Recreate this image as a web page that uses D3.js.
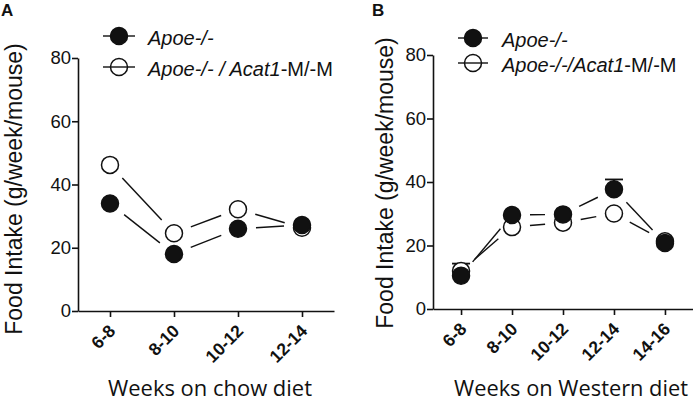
<!DOCTYPE html>
<html>
<head>
<meta charset="utf-8">
<script src="https://cdn.jsdelivr.net/npm/d3@7"></script>
<style>
  html, body { margin: 0; padding: 0; background: #fff; }
  svg { display: block; }
</style>
</head>
<body>
<svg id="chart" width="693" height="402"></svg>
<script>
// ---- Data ----
const weeksChow = ["6-8", "8-10", "10-12", "12-14"];
const chowApoe = [34, 18, 26, 27.2];
const chowAcat = [46.2, 24.6, 32.2, 26.3];

const weeksWestern = ["6-8", "8-10", "10-12", "12-14", "14-16"];
const westernApoe = [10.5, 29.6, 29.8, 37.7, 20.8];
const westernApoeErr = [0, 0, 0, 3.1, 0];
const westernAcat = [12, 25.8, 27.2, 30.1, 21.3];
const westernAcatErr = [2.3, 0, 0, 0, 0];

const yTicks = [0, 20, 40, 60, 80];
const seriesNamesA = ["Apoe-/-", "Apoe-/- / Acat1-M/-M"];
const seriesNamesB = ["Apoe-/-", "Apoe-/-/Acat1-M/-M"];

// ---- Drawing ----
const svg = d3.select("#chart");
const INK = "#111";
const R = 8.5;
const GAP = 18;

function legendLabel(sel, name) {
  const idx = name.indexOf("Acat1");
  if (idx < 0) {
    sel.append("tspan").attr("font-style", "italic").text(name);
  } else {
    sel.append("tspan").attr("font-style", "italic").text(name.slice(0, idx + 5));
    sel.append("tspan").attr("font-style", "normal").text(name.slice(idx + 5));
  }
}

function panel(cfg) {
  const g = svg.append("g");
  const x = d3.scalePoint().domain(cfg.cats).range(cfg.xRange).padding(cfg.pad);
  const y = d3.scaleLinear().domain([0, 80]).range(cfg.yRange);

  const ya = g.append("g").attr("transform", `translate(${cfg.xRange[0]},0)`)
    .call(d3.axisLeft(y).tickValues(yTicks).tickSize(6).tickSizeOuter(0).tickPadding(1));
  ya.select(".domain").attr("stroke", INK).attr("stroke-width", 1.6);
  ya.selectAll(".tick line").attr("stroke", INK).attr("stroke-width", 1.6);
  ya.selectAll(".tick text").attr("font-family", "Liberation Sans, Arial, sans-serif")
    .attr("font-size", 18.5).attr("fill", INK);

  const xa = g.append("g").attr("transform", `translate(0,${cfg.yRange[0]})`)
    .call(d3.axisBottom(x).tickSize(6).tickSizeOuter(0));
  xa.select(".domain").attr("stroke", INK).attr("stroke-width", 1.6);
  xa.selectAll(".tick line").attr("stroke", INK).attr("stroke-width", 1.6);
  xa.selectAll(".tick text")
    .attr("font-family", "Liberation Sans, Arial, sans-serif")
    .attr("font-size", 17.5).attr("font-weight", "bold").attr("fill", INK)
    .attr("text-anchor", "end").attr("dy", 0).attr("y", 0)
    .attr("transform", "translate(6,21) rotate(-45)");

  const series = [
    { vals: cfg.open, err: cfg.openErr, filled: false },
    { vals: cfg.filled, err: cfg.filledErr, filled: true }
  ];
  series.forEach(s => {
    const pts = cfg.cats.map((c, i) => [x(c), y(s.vals[i])]);
    for (let i = 0; i < pts.length - 1; i++) {
      const [x0, y0] = pts[i], [x1, y1] = pts[i + 1];
      const L = Math.hypot(x1 - x0, y1 - y0);
      if (L <= 2 * GAP) continue;
      const ux = (x1 - x0) / L, uy = (y1 - y0) / L;
      g.append("line")
        .attr("x1", x0 + ux * GAP).attr("y1", y0 + uy * GAP)
        .attr("x2", x1 - ux * GAP).attr("y2", y1 - uy * GAP)
        .attr("stroke", INK).attr("stroke-width", 1.4);
    }
    if (s.err) {
      cfg.cats.forEach((c, i) => {
        if (!s.err[i]) return;
        const cx = x(c), top = y(s.vals[i] + s.err[i]);
        g.append("line").attr("x1", cx).attr("x2", cx)
          .attr("y1", y(s.vals[i])).attr("y2", top)
          .attr("stroke", INK).attr("stroke-width", 1.5);
        g.append("line").attr("x1", cx - 9).attr("x2", cx + 9)
          .attr("y1", top).attr("y2", top)
          .attr("stroke", INK).attr("stroke-width", 1.8);
      });
    }
    g.selectAll(null).data(pts).enter().append("circle")
      .attr("cx", d => d[0]).attr("cy", d => d[1]).attr("r", R)
      .attr("fill", s.filled ? INK : "#fff")
      .attr("stroke", INK).attr("stroke-width", 1.5);
  });

  cfg.legend.forEach((lg, i) => {
    const cy = lg.cy;
    g.append("line").attr("x1", lg.lx0).attr("x2", lg.lx1).attr("y1", cy).attr("y2", cy)
      .attr("stroke", INK).attr("stroke-width", 1.4);
    g.append("circle").attr("cx", (lg.lx0 + lg.lx1) / 2).attr("cy", cy).attr("r", R)
      .attr("fill", i === 0 ? INK : "none").attr("stroke", INK).attr("stroke-width", 1.5);
    const t = g.append("text").attr("x", lg.tx).attr("y", cy + 8.5)
      .attr("font-family", "Liberation Sans, Arial, sans-serif")
      .attr("font-size", 20).attr("fill", INK);
    legendLabel(t, cfg.names[i]);
  });

  g.append("text")
    .attr("transform", `translate(${cfg.yTitleX},${cfg.yTitleY}) rotate(-90)`)
    .attr("text-anchor", "middle")
    .attr("font-family", "Liberation Sans, Arial, sans-serif")
    .attr("font-size", 23).attr("fill", INK)
    .text("Food Intake (g/week/mouse)");

  g.append("text")
    .attr("x", cfg.xTitleX).attr("y", 396)
    .attr("font-family", "Open Sans, sans-serif")
    .attr("font-size", 21).attr("fill", INK)
    .attr("textLength", cfg.xTitleW).attr("lengthAdjust", "spacingAndGlyphs")
    .text(cfg.xTitle);

  g.append("text").attr("x", cfg.letterX).attr("y", 16)
    .attr("font-family", "Liberation Sans, Arial, sans-serif")
    .attr("font-size", 17).attr("font-weight", "bold").attr("fill", INK)
    .text(cfg.letter);
}

panel({
  cats: weeksChow, filled: chowApoe, open: chowAcat,
  xRange: [78, 334], pad: 0.5, yRange: [311, 58],
  names: seriesNamesA,
  legend: [{ cy: 36, lx0: 103, lx1: 135, tx: 148 }, { cy: 67, lx0: 103, lx1: 135, tx: 148 }],
  yTitleX: 22, yTitleY: 189,
  xTitle: "Weeks on chow diet", xTitleX: 108, xTitleW: 204,
  letter: "A", letterX: 1
});

panel({
  cats: weeksWestern, filled: westernApoe, open: westernAcat,
  filledErr: westernApoeErr, openErr: westernAcatErr,
  xRange: [433, 693], pad: 0.55, yRange: [309, 55],
  names: seriesNamesB,
  legend: [{ cy: 38, lx0: 458, lx1: 488, tx: 502 }, { cy: 63, lx0: 458, lx1: 488, tx: 502 }],
  yTitleX: 393, yTitleY: 183,
  xTitle: "Weeks on Western diet", xTitleX: 454, xTitleW: 234,
  letter: "B", letterX: 372
});
</script>
</body>
</html>
